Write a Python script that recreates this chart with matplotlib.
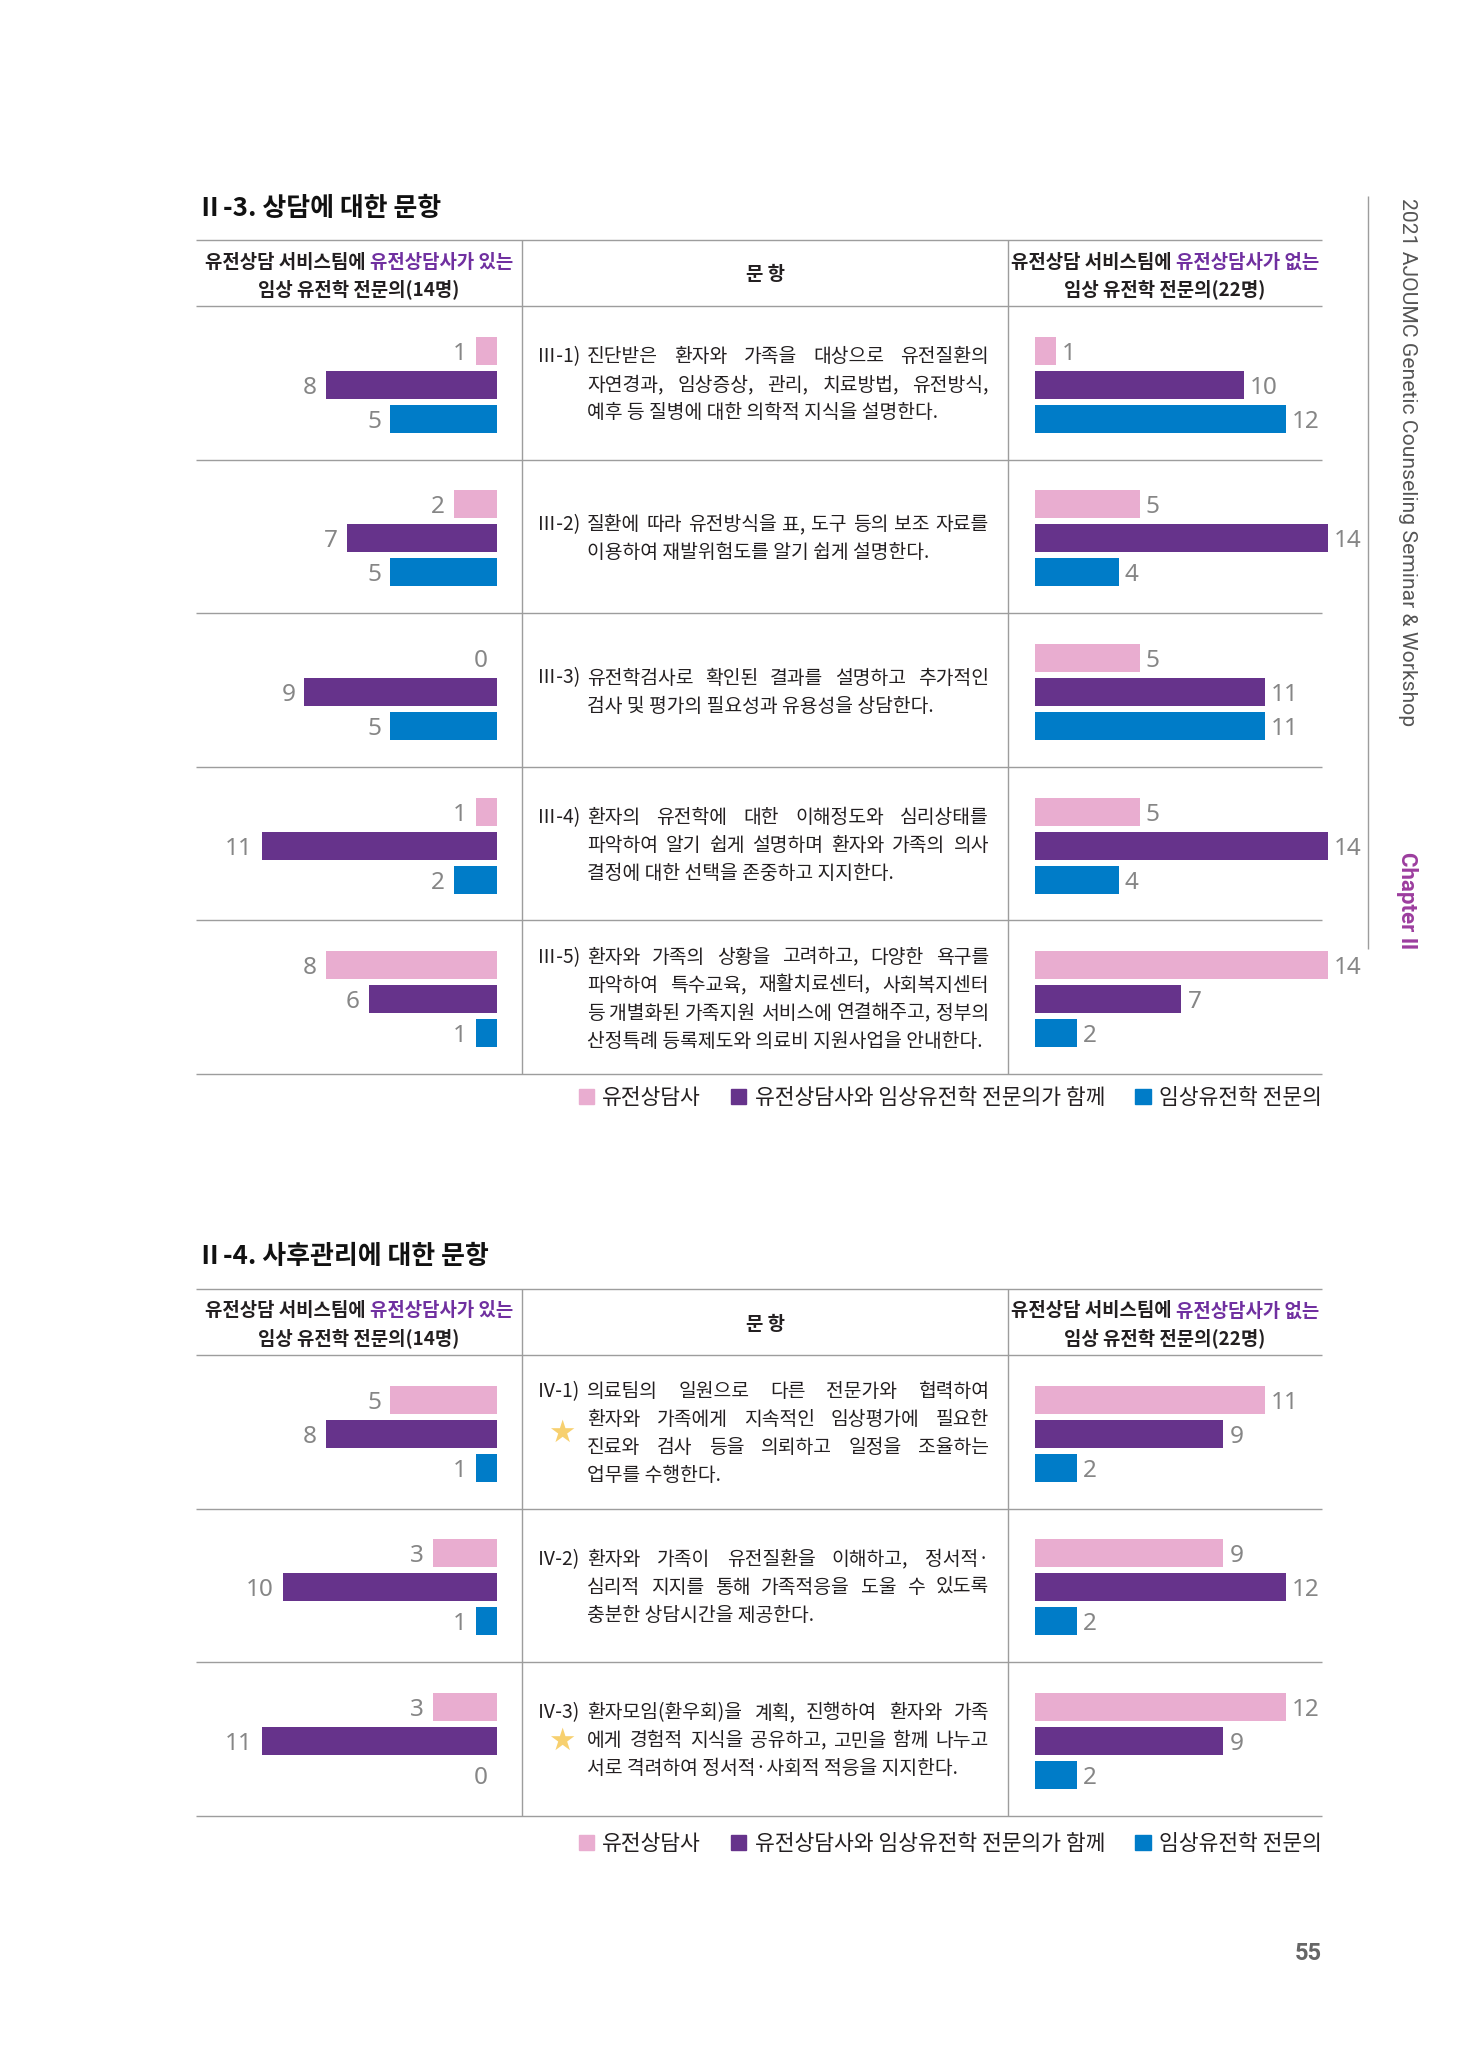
import numpy as np
import matplotlib.pyplot as plt
from matplotlib.patches import Patch

W, H = 1480, 2047
plt.rcParams['font.family'] = ['Noto Sans CJK KR', 'DejaVu Sans']

#<---------------------------- datos -------------------------------->
series = ["유전상담사", "유전상담사와 임상유전학 전문의가 함께", "임상유전학 전문의"]
colors = ["#E9ADD0", "#66338B", "#007CC8"]

# Ⅱ-3 상담 (Ⅲ-1 ... Ⅲ-5)
q3_codes = ["Ⅲ-1)", "Ⅲ-2)", "Ⅲ-3)", "Ⅲ-4)", "Ⅲ-5)"]
q3_with_gc = [1, 2, 0, 1, 8]
q3_with_both = [8, 7, 9, 11, 6]
q3_with_doc = [5, 5, 5, 2, 1]
q3_without_gc = [1, 5, 5, 5, 14]
q3_without_both = [10, 14, 11, 14, 7]
q3_without_doc = [12, 4, 11, 4, 2]
q3_text = [
    ["진단받은 환자와 가족을 대상으로 유전질환의", "자연경과, 임상증상, 관리, 치료방법, 유전방식,",
     "예후 등 질병에 대한 의학적 지식을 설명한다."],
    ["질환에 따라 유전방식을 표, 도구 등의 보조 자료를", "이용하여 재발위험도를 알기 쉽게 설명한다."],
    ["유전학검사로 확인된 결과를 설명하고 추가적인", "검사 및 평가의 필요성과 유용성을 상담한다."],
    ["환자의 유전학에 대한 이해정도와 심리상태를", "파악하여 알기 쉽게 설명하며 환자와 가족의 의사",
     "결정에 대한 선택을 존중하고 지지한다."],
    ["환자와 가족의 상황을 고려하고, 다양한 욕구를", "파악하여 특수교육, 재활치료센터, 사회복지센터",
     "등 개별화된 가족지원 서비스에 연결해주고, 정부의", "산정특례 등록제도와 의료비 지원사업을 안내한다."],
]
q3_star = [False] * 5

# Ⅱ-4 사후관리 (Ⅳ-1 ... Ⅳ-3)
q4_codes = ["Ⅳ-1)", "Ⅳ-2)", "Ⅳ-3)"]
q4_with_gc = [5, 3, 3]
q4_with_both = [8, 10, 11]
q4_with_doc = [1, 1, 0]
q4_without_gc = [11, 9, 12]
q4_without_both = [9, 12, 9]
q4_without_doc = [2, 2, 2]
q4_text = [
    ["의료팀의 일원으로 다른 전문가와 협력하여", "환자와 가족에게 지속적인 임상평가에 필요한",
     "진료와 검사 등을 의뢰하고 일정을 조율하는", "업무를 수행한다."],
    ["환자와 가족이 유전질환을 이해하고, 정서적·", "심리적 지지를 통해 가족적응을 도울 수 있도록",
     "충분한 상담시간을 제공한다."],
    ["환자모임(환우회)을 계획, 진행하여 환자와 가족", "에게 경험적 지식을 공유하고, 고민을 함께 나누고",
     "서로 격려하여 정서적·사회적 적응을 지지한다."],
]
q4_star = [True, False, True]

#<---------------------------- pagina -------------------------------->
fig = plt.figure(figsize=(W / 100, H / 100), dpi=100)
page = fig.add_axes([0, 0, 1, 1])
page.set_xlim(0, W); page.set_ylim(H, 0); page.axis('off')
rend = fig.canvas.get_renderer()

LINE = "#9D9D9D"; TXT = "#231F20"; NUM = "#868686"; HEAD_P = "#7030A0"
X_L, X_R = 196, 1322          # bordes de la tabla
COL1, COL2 = 522, 1008        # divisiones de columnas
ROW_H = 153.6
LSP = 28                      # interlineado del texto
FS_BODY, FS_HEAD = 13.9, 13.6


def width(s, **kw):
    t = page.text(0, 0, s, **kw)
    w = t.get_window_extent(rend).width
    t.remove()
    return w


def put_line(x0, x1, y, s, justify, **kw):
    words = s.split(" ")
    if not justify or len(words) == 1:
        page.text(x0, y, s, ha="left", va="center", **kw)
        return
    ws = [width(w, **kw) for w in words]
    gap = max((x1 - x0 - sum(ws)) / (len(words) - 1), 3)
    x = x0
    for w, wd in zip(words, ws):
        page.text(x, y, w, ha="left", va="center", **kw)
        x += wd + gap


def header(xc, y, black, purple):
    kw = dict(fontsize=FS_HEAD, fontweight="bold")
    wb = width(black, **kw); wp = width(purple, **kw)
    x0 = xc - (wb + wp) / 2
    page.text(x0, y, black, ha="left", va="center", color=TXT, **kw)
    page.text(x0 + wb, y, purple, ha="left", va="center", color=HEAD_P, **kw)


def px_axes(x0, x1, y0, y1):
    ax = fig.add_axes([x0 / W, 1 - y1 / H, (x1 - x0) / W, (y1 - y0) / H])
    ax.axis('off')
    return ax


def bars(ax, vals, n, side, span):
    pitch, bh, off = 34 / ROW_H, 28 / ROW_H, 2 / ROW_H
    ax.set_ylim(n, 0)
    if side == "left":
        ax.set_xlim(span / 21.4, 0)
    else:
        ax.set_xlim(0, span / 20.9)
    for k in range(3):
        y = np.arange(n) + 0.5 + off + (k - 1) * pitch
        ax.barh(y, vals[k], height=bh, color=colors[k])
        for yy, v in zip(y, vals[k]):
            dx = -6.5 if side == "left" else 4.5
            ax.annotate(str(v), (v, yy), xytext=(dx, 0), textcoords="offset points",
                        ha="right" if side == "left" else "left", va="center_baseline",
                        fontsize=17.5, color=NUM, family=["Noto Sans", "DejaVu Sans"],
                        annotation_clip=False)


def section(title, title_y, top, codes, texts, stars, left, right, legend_y):
    n = len(codes)
    head_bot = top + 66
    bottom = head_bot + n * ROW_H
    page.text(197, title_y, title, ha="left", va="center", fontsize=18.7, fontweight="bold", color="#111111")
    # reglas de la tabla
    page.hlines([top, head_bot] + [head_bot + ROW_H * (i + 1) for i in range(n)], X_L, X_R, color=LINE, lw=1.0)
    page.vlines([COL1, COL2], top, bottom, color=LINE, lw=1.0)
    # encabezados
    header((X_L + COL1) / 2, top + 22, "유전상담 서비스팀에 ", "유전상담사가 있는")
    page.text((X_L + COL1) / 2, top + 49, "임상 유전학 전문의(14명)", ha="center", va="center",
              fontsize=FS_HEAD, fontweight="bold", color=TXT)
    header((COL2 + X_R) / 2, top + 22, "유전상담 서비스팀에 ", "유전상담사가 없는")
    page.text((COL2 + X_R) / 2, top + 49, "임상 유전학 전문의(22명)", ha="center", va="center",
              fontsize=FS_HEAD, fontweight="bold", color=TXT)
    page.text((COL1 + COL2) / 2, (top + head_bot) / 2 + 2, "문 항", ha="center", va="center",
              fontsize=FS_HEAD, fontweight="bold", color=TXT)
    # textos de las preguntas
    for i, (code, lines, star) in enumerate(zip(codes, texts, stars)):
        yc = head_bot + ROW_H * (i + 0.5) + 2
        y0 = yc - (len(lines) - 1) * LSP / 2
        page.text(537, y0, code, ha="left", va="center", fontsize=FS_BODY, color=TXT)
        for j, s in enumerate(lines):
            put_line(587, 989, y0 + j * LSP, s, j < len(lines) - 1, fontsize=FS_BODY, color=TXT)
        if star:
            page.text(562, yc, "★", ha="center", va="center", fontsize=22, color="#F7D06F",
                      family=["DejaVu Sans"])
    # barras
    bars(px_axes(X_L, 497, head_bot, bottom), left, n, "left", 301)
    bars(px_axes(1035, 1345, head_bot, bottom), right, n, "right", 310)
    # leyenda
    handles = [Patch(color=c, label=s) for c, s in zip(colors, series)]
    fig.legend(handles=handles, loc="center right", bbox_to_anchor=(X_R / W, 1 - legend_y / H), ncol=3,
               frameon=False, handlelength=0.7, handleheight=0.7, handletextpad=0.4,
               columnspacing=1.4, fontsize=15.5, borderpad=0, borderaxespad=0, labelcolor=TXT)


section("Ⅱ-3. 상담에 대한 문항", 209, 240, q3_codes, q3_text, q3_star,
        [q3_with_gc, q3_with_both, q3_with_doc], [q3_without_gc, q3_without_both, q3_without_doc], 1098)
section("Ⅱ-4. 사후관리에 대한 문항", 1257, 1289, q4_codes, q4_text, q4_star,
        [q4_with_gc, q4_with_both, q4_with_doc], [q4_without_gc, q4_without_both, q4_without_doc], 1844)

#<---------------------------- margen derecho -------------------------------->
page.vlines(1368, 196, 949, color=LINE, lw=1.0)
page.text(1407, 198, "2021 AJOUMC Genetic Counseling Seminar & Workshop", rotation=-90, ha="center", va="top",
          fontsize=15.2, color="#555555", family=["Roboto", "DejaVu Sans"])
page.text(1407, 949, "Chapter Ⅱ", rotation=-90, ha="center", va="bottom", fontsize=16, fontweight="bold",
          color="#9C3D9E", family=["Roboto", "DejaVu Sans"])
page.text(1322, 1953, "55", ha="right", va="center", fontsize=17, fontweight="bold", color="#666666",
          family=["Roboto", "DejaVu Sans"])

plt.savefig("out.png", dpi=100)
